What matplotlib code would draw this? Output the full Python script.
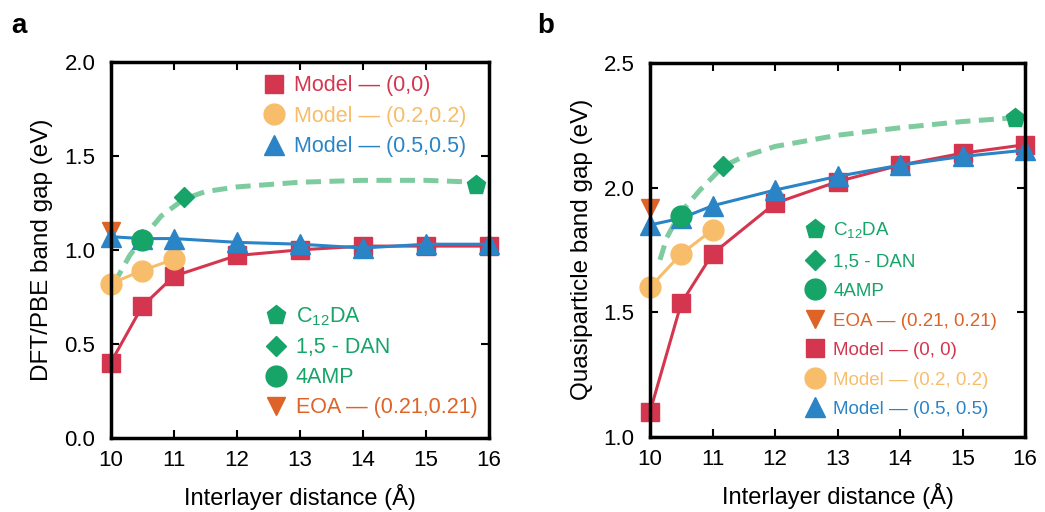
import matplotlib
matplotlib.use("Agg")
import matplotlib.pyplot as plt
from matplotlib.lines import Line2D

plt.rcParams['font.family'] = ['Liberation Sans', 'DejaVu Sans']
plt.rcParams['mathtext.fontset'] = 'custom'
plt.rcParams['mathtext.rm'] = 'Liberation Sans'

# ---- data (panel a: DFT/PBE) ----
x_model = [10, 10.5, 11, 12, 13, 14, 15, 16]
x_mid = [10, 10.5, 11]
a_red = [0.40, 0.70, 0.86, 0.97, 1.00, 1.02, 1.02, 1.02]
a_yellow = [0.82, 0.89, 0.95]
a_blue = [1.07, 1.06, 1.06, 1.04, 1.03, 1.01, 1.03, 1.03]
a_c12da = (15.8, 1.345)
a_dan = (11.16, 1.28)
a_4amp = (10.5, 1.05)
a_eoa = (10.0, 1.10)
a_fit_x = [10.05, 10.3, 10.5, 10.8, 11.16, 11.5, 12, 13, 14, 15, 15.8]
a_fit_y = [0.82, 0.97, 1.06, 1.18, 1.27, 1.31, 1.335, 1.36, 1.37, 1.37, 1.36]

# ---- data (panel b: quasiparticle) ----
b_red = [1.10, 1.536, 1.734, 1.937, 2.024, 2.09, 2.138, 2.172]
b_yellow = [1.60, 1.734, 1.83]
b_blue = [1.85, 1.877, 1.927, 1.99, 2.045, 2.09, 2.125, 2.15]
b_c12da = (15.83, 2.28)
b_dan = (11.17, 2.085)
b_4amp = (10.5, 1.884)
b_eoa = (10.0, 1.917)
b_fit_x = [10.16, 10.27, 10.48, 10.8, 11.17, 11.5, 12, 13, 14, 15, 15.83]
b_fit_y = [1.71, 1.80, 1.897, 1.99, 2.085, 2.125, 2.165, 2.21, 2.24, 2.265, 2.28]

RED = '#d5364f'
YEL = '#f8bd6a'
BLU = '#2b84c6'
GRN = '#16a468'
GRN_L = '#7fcba0'
ORG = '#dd6326'

# marker sizes
MS_SQ, MS_CI, MS_TR, MS_D, MS_P, MS_V = 12.5, 15, 15, 10.5, 14, 12.5

fig = plt.figure(figsize=(10.45, 5.12), dpi=100)
ax1 = fig.add_axes([0.106, 0.145, 0.362, 0.734])
ax2 = fig.add_axes([0.622, 0.147, 0.359, 0.730])


def draw(ax, red, yellow, blue, c12, dan, amp, eoa, fx, fy):
    ax.plot(fx, fy, '-', color=GRN_L, lw=3.6, dashes=(3, 1.7), zorder=1)
    ax.plot(*eoa, 'v', color=ORG, ms=MS_V, zorder=2, clip_on=False)
    ax.plot(x_model, red, '-s', color=RED, lw=2.2, ms=MS_SQ, zorder=3, clip_on=False)
    ax.plot(x_mid, yellow, '-o', color=YEL, lw=2.2, ms=MS_CI, zorder=3, clip_on=False)
    ax.plot(x_model, blue, '-^', color=BLU, lw=2.2, ms=MS_TR, zorder=4, clip_on=False)
    ax.plot(*amp, 'o', color=GRN, ms=MS_CI, zorder=5)
    ax.plot(*dan, 'D', color=GRN, ms=MS_D, zorder=5)
    ax.plot(*c12, 'p', color=GRN, ms=MS_P, zorder=5)
    ax.set_xlim(10, 16)
    ax.set_xticks(range(10, 17))
    ax.tick_params(direction='in', top=True, right=True, length=6, width=1.5,
                   labelsize=16)
    ax.tick_params(axis='x', pad=9)
    ax.tick_params(axis='y', pad=11)
    for s in ax.spines.values():
        s.set_linewidth(2.5)
        s.set_zorder(6)
    ax.set_xlabel('Interlayer distance (Å)', fontsize=17, labelpad=9)


draw(ax1, a_red, a_yellow, a_blue, a_c12da, a_dan, a_4amp, a_eoa, a_fit_x, a_fit_y)
draw(ax2, b_red, b_yellow, b_blue, b_c12da, b_dan, b_4amp, b_eoa, b_fit_x, b_fit_y)

ax1.set_ylim(0, 2)
ax1.set_yticks([0, 0.5, 1.0, 1.5, 2.0])
ax1.set_yticklabels(['0.0', '0.5', '1.0', '1.5', '2.0'])
ax1.set_ylabel('DFT/PBE band gap (eV)', fontsize=17.5, labelpad=8)
ax2.set_ylim(1, 2.5)
ax2.set_yticks([1.0, 1.5, 2.0, 2.5])
ax2.set_yticklabels(['1.0', '1.5', '2.0', '2.5'])
ax2.set_ylabel('Quasiparticle band gap (eV)', fontsize=17.5, labelpad=8)


def h(marker, color, size):
    return Line2D([], [], ls='none', marker=marker, color=color, ms=size)


lk = dict(frameon=False, labelcolor='markerfacecolor', handletextpad=0.35,
          borderpad=0, borderaxespad=0, handlelength=1.2)

leg1 = ax1.legend([h('s', RED, MS_SQ), h('o', YEL, MS_CI), h('^', BLU, MS_TR)],
                  ['Model — (0,0)', 'Model — (0.2,0.2)', 'Model — (0.5,0.5)'],
                  loc='upper right', bbox_to_anchor=(0.94, 0.965),
                  fontsize=15.5, labelspacing=0.45, **lk)
ax1.add_artist(leg1)
ax1.legend([h('p', GRN, MS_P), h('D', GRN, MS_D), h('o', GRN, MS_CI), h('v', ORG, MS_V)],
           [r'C$_\mathregular{12}$DA', '1,5 - DAN', '4AMP', 'EOA — (0.21,0.21)'],
           loc='lower right', bbox_to_anchor=(0.97, 0.052),
           fontsize=15.5, labelspacing=0.42, **lk)

ax2.legend([h('p', GRN, MS_P), h('D', GRN, MS_D), h('o', GRN, MS_CI), h('v', ORG, MS_V),
            h('s', RED, MS_SQ), h('o', YEL, MS_CI), h('^', BLU, MS_TR)],
           [r'C$_\mathregular{12}$DA', '1,5 - DAN', '4AMP', 'EOA — (0.21, 0.21)',
            'Model — (0, 0)', 'Model — (0.2, 0.2)', 'Model — (0.5, 0.5)'],
           loc='lower right', bbox_to_anchor=(0.925, 0.05),
           fontsize=13.5, labelspacing=0.66, **lk)

fig.text(0.011, 0.975, 'a', fontsize=20, fontweight='bold', va='top')
fig.text(0.514, 0.975, 'b', fontsize=20, fontweight='bold', va='top')

fig.savefig('out.png', dpi=100)
